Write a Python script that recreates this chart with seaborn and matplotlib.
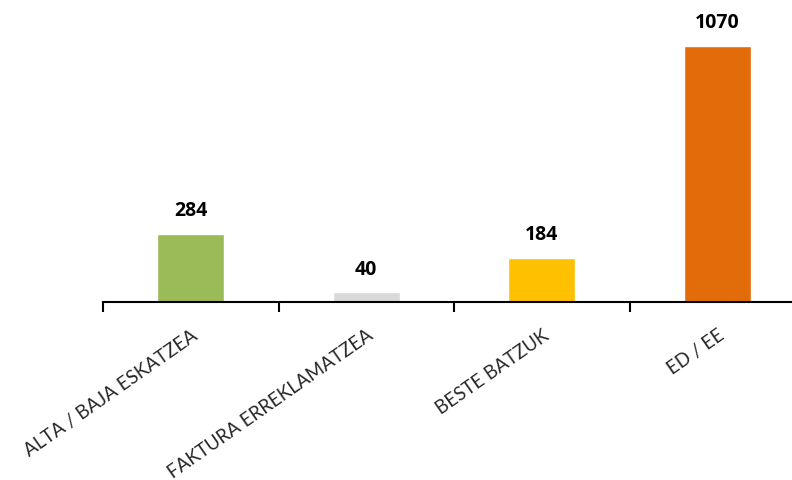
import matplotlib
matplotlib.use("Agg")
import matplotlib.pyplot as plt
import seaborn as sns

# Data
categories = ["ALTA / BAJA ESKATZEA", "FAKTURA ERREKLAMATZEA", "BESTE BATZUK", "ED / EE"]
values = [284, 40, 184, 1070]
colors = ["#9BBB59", "#D9D9D9", "#FFC000", "#E36C0A"]

sns.set_style("white")
plt.rcParams["font.family"] = ["Lato", "DejaVu Sans"]

fig = plt.figure(figsize=(7.92, 4.81), dpi=100)
ax = fig.add_axes([103 / 792, (481 - 303) / 481, 702 / 792, 303 / 481])

sns.barplot(x=categories, y=values, hue=categories, palette=colors,
            legend=False, width=0.38, saturation=1, ax=ax)

ax.set_xlim(-0.5, len(categories) - 0.5)
ax.set_ylim(0, 1070 * 303 / 256)

# value labels above bars
for i, v in enumerate(values):
    ax.annotate(str(v), (i, v), xytext=(0, 10), textcoords="offset points",
                ha="center", va="bottom", fontsize=14, fontweight="bold",
                family=["Open Sans", "DejaVu Sans"], color="black")

# axis styling
for side in ["top", "right", "left"]:
    ax.spines[side].set_visible(False)
ax.spines["bottom"].set_linewidth(1.5)
ax.spines["bottom"].set_color("black")
ax.set_yticks([])
ax.set_xlabel("")
ax.set_ylabel("")

ax.set_xticks(range(len(categories)))
ax.set_xticklabels(categories, rotation=35, ha="right", rotation_mode="anchor",
                   fontsize=13.5, color="#262626")
ax.tick_params(axis="x", which="major", length=0, pad=17)
ax.set_xticks([i - 0.5 for i in range(len(categories) + 1)], minor=True)
ax.tick_params(axis="x", which="minor", length=7, width=1.5, direction="out",
               color="black", bottom=True)

fig.savefig("out.png", dpi=100)
